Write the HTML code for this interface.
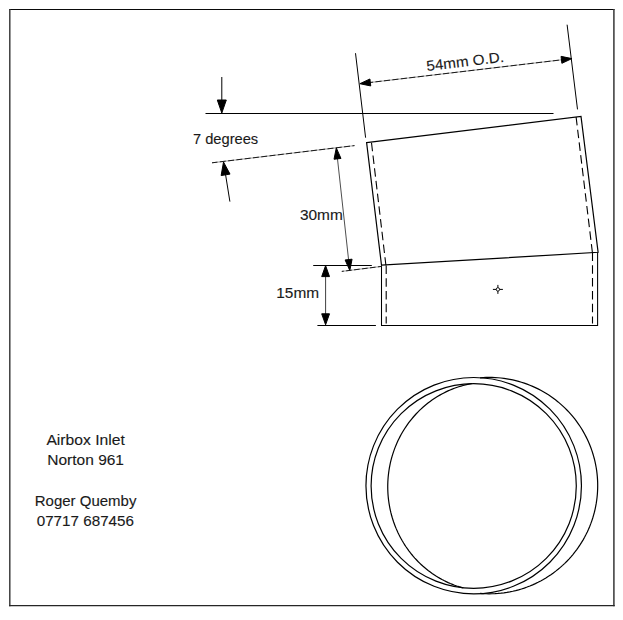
<!DOCTYPE html>
<html><head><meta charset="utf-8"><style>
html,body{margin:0;padding:0;background:#fff;}
body{width:623px;height:620px;overflow:hidden;}
svg{display:block;}
text{font-family:"Liberation Sans", sans-serif;fill:#1a1a1a;stroke:#1a1a1a;stroke-width:0.12px;}
</style></head><body>
<svg width="623" height="620" viewBox="0 0 623 620">
<rect width="623" height="620" fill="#fff"/>
<g stroke="#000" fill="none">
<line x1="9" y1="9.5" x2="614.5" y2="9.5" stroke="#0a0a0a" stroke-width="1.1"/>
<line x1="9.8" y1="9" x2="9.8" y2="606.3" stroke="#383838" stroke-width="1.45"/>
<line x1="613.9" y1="9" x2="613.9" y2="606.3" stroke="#3c3c3c" stroke-width="1.55"/>
<line x1="9.1" y1="605.6" x2="614.7" y2="605.6" stroke="#262626" stroke-width="1.35"/>
<line x1="205.50" y1="113.50" x2="553.50" y2="113.50" stroke-width="1.05" />
<line x1="221.80" y1="77.00" x2="221.80" y2="104.00" stroke-width="1" />
<polygon points="221.80,113.00 226.30,100.00 217.30,100.00" fill="#000"/>
<line x1="212.00" y1="162.80" x2="354.50" y2="145.60" stroke="#555" stroke-width="0.6"/><line x1="212.00" y1="162.80" x2="354.50" y2="145.60" stroke-width="0.85" stroke-dasharray="5.945,2.4" stroke-dashoffset="0.469"/>
<line x1="229.90" y1="201.60" x2="224.50" y2="168.00" stroke-width="1" />
<polygon points="223.50,162.00 221.13,175.55 230.02,174.12" fill="#000"/>
<line x1="355.50" y1="53.20" x2="365.60" y2="137.70" stroke-width="1" />
<line x1="567.10" y1="24.70" x2="577.50" y2="109.40" stroke-width="1" />
<line x1="365.00" y1="83.10" x2="566.00" y2="59.30" stroke="#555" stroke-width="0.6"/><line x1="365.00" y1="83.10" x2="566.00" y2="59.30" stroke-width="0.85" stroke-dasharray="6.104,2.4" stroke-dashoffset="6.454"/>
<polygon points="359.90,83.70 370.74,85.94 369.92,78.99" fill="#000"/>
<polygon points="571.90,58.60 561.06,56.36 561.88,63.31" fill="#000"/>
<polygon points="366.6,142.6 581,116.5 598.1,252.3 381.5,265.2" fill="none" stroke="#000" stroke-width="1.2" stroke-linejoin="miter"/>
<line x1="371.50" y1="142.80" x2="385.90" y2="265.20" stroke-width="1.1" stroke-dasharray="8.5,4.3"/>
<line x1="576.10" y1="117.00" x2="592.40" y2="252.50" stroke-width="1.1" stroke-dasharray="8.5,4.3"/>
<polyline points="381.5,265.2 381.5,325.5 597.6,325.5 597.6,252.3" fill="none" stroke="#000" stroke-width="1.05"/>
<line x1="386.20" y1="265.40" x2="386.20" y2="323.50" stroke-width="1.1" stroke-dasharray="8.5,4.3"/>
<line x1="592.50" y1="252.50" x2="592.50" y2="323.50" stroke-width="1.1" stroke-dasharray="8.5,4.3"/>
<line x1="337.40" y1="158.00" x2="348.60" y2="260.00" stroke-width="0.7" />
<polygon points="336.30,147.90 334.03,159.22 340.98,158.45" fill="#000"/>
<polygon points="349.80,270.50 352.07,259.18 345.12,259.95" fill="#000"/>
<line x1="341.80" y1="271.40" x2="381.50" y2="266.40" stroke="#555" stroke-width="0.6"/><line x1="341.80" y1="271.40" x2="381.50" y2="266.40" stroke-width="0.85" stroke-dasharray="5.603,2.4" stroke-dashoffset="3.602"/>
<line x1="313.20" y1="265.50" x2="371.80" y2="265.50" stroke-width="1.05" />
<line x1="317.40" y1="325.50" x2="375.90" y2="325.50" stroke-width="1.05" />
<line x1="325.60" y1="276.00" x2="325.60" y2="314.00" stroke-width="0.75" />
<polygon points="325.60,265.60 321.70,276.60 329.50,276.60" fill="#000"/>
<polygon points="325.60,324.80 329.50,313.80 321.70,313.80" fill="#000"/>
<line x1="492.90" y1="289.40" x2="496.30" y2="289.40" stroke-width="1" />
<line x1="499.50" y1="289.40" x2="502.90" y2="289.40" stroke-width="1" />
<line x1="497.90" y1="284.90" x2="497.90" y2="287.80" stroke-width="1" />
<line x1="497.90" y1="291.00" x2="497.90" y2="293.90" stroke-width="1" />
<circle cx="497.9" cy="289.4" r="1.7" stroke-width="0.9"/>
<ellipse cx="473.7" cy="485.7" rx="107.75" ry="108.2" fill="none" stroke="#000" stroke-width="1.2"/>
<ellipse cx="473.7" cy="486" rx="102.6" ry="102.3" fill="none" stroke="#000" stroke-width="1.2"/>
<polyline points="463.31,587.98 461.11,587.36 458.91,586.69 456.73,585.97 454.57,585.20 452.43,584.37 450.30,583.50 448.19,582.58 446.11,581.60 444.04,580.58 442.00,579.51 439.98,578.39 437.99,577.22 436.02,576.01 434.08,574.75 432.17,573.45 430.29,572.10 428.44,570.71 426.62,569.27 424.83,567.79 423.07,566.27 421.35,564.70 419.66,563.10 418.00,561.46 416.39,559.78 414.81,558.06 413.27,556.30 411.76,554.51 410.30,552.69 408.88,550.83 407.50,548.93 406.16,547.01 404.86,545.05 403.60,543.06 402.39,541.04 401.23,539.00 400.11,536.93 399.03,534.83 398.00,532.71 397.02,530.56 396.08,528.39 395.20,526.20 394.36,523.99 393.56,521.76 392.82,519.51 392.13,517.25 391.49,514.97 390.89,512.67 390.35,510.36 389.86,508.04 389.42,505.71 389.03,503.37 388.69,501.02 388.40,498.66 388.16,496.29 387.98,493.93 387.85,491.55 387.77,489.18 387.74,486.80 387.76,484.42 387.84,482.05 387.97,479.67 388.15,477.31 388.38,474.94 388.66,472.58 389.00,470.23 389.38,467.89 389.82,465.55 390.31,463.23 390.84,460.92 391.43,458.63 392.07,456.34 392.76,454.08 393.50,451.83 394.29,449.60 395.12,447.38 396.01,445.19 396.94,443.02 397.92,440.87 398.94,438.75 400.01,436.65 401.13,434.57 402.29,432.53 403.50,430.51 404.75,428.52 406.04,426.56 407.38,424.63 408.76,422.73 410.18,420.87 411.64,419.04 413.14,417.25 414.68,415.49 416.25,413.77 417.87,412.08 419.52,410.44 421.20,408.83 422.92,407.26 424.68,405.74 426.46,404.26 428.28,402.81 430.13,401.42 432.01,400.06 433.92,398.76 435.86,397.49 437.82,396.28 439.81,395.11 441.83,393.98 443.87,392.91 445.93,391.88 448.01,390.91 450.12,389.98 452.24,389.10 454.39,388.27 456.55,387.50 458.73,386.77 460.92,386.10 463.13,385.48 465.35,384.91 467.58,384.39 469.82,383.93 472.07,383.51" fill="none" stroke="#000" stroke-width="1.2"/>
<polyline points="480.07,377.81 483.05,377.59 486.04,377.46 489.03,377.40 492.02,377.43 495.01,377.54 497.99,377.73 500.97,378.01 503.93,378.37 506.89,378.81 509.84,379.33 512.77,379.93 515.68,380.61 518.57,381.38 521.44,382.22 524.28,383.14 527.10,384.14 529.89,385.22 532.64,386.37 535.37,387.60 538.06,388.91 540.71,390.29 543.33,391.74 545.90,393.26 548.43,394.86 550.91,396.52 553.35,398.25 555.74,400.05 558.08,401.91 560.37,403.84 562.60,405.83 564.78,407.88 566.89,409.99 568.95,412.15 570.95,414.38 572.89,416.65 574.76,418.99 576.57,421.37 578.31,423.80 579.99,426.27 581.59,428.80 583.13,431.36 584.59,433.97 585.98,436.62 587.29,439.30 588.54,442.02 589.70,444.78 590.79,447.56 591.81,450.37 592.74,453.21 593.59,456.08 594.37,458.97 595.07,461.87 595.68,464.80 596.22,467.74 596.67,470.70 597.04,473.66 597.33,476.64 597.53,479.62 597.66,482.61 597.70,485.60 597.66,488.59 597.53,491.58 597.33,494.56 597.04,497.54 596.67,500.50 596.22,503.46 595.68,506.40 595.07,509.33 594.37,512.23 593.59,515.12 592.74,517.99 591.81,520.83 590.79,523.64 589.70,526.42 588.54,529.18 587.29,531.90 585.98,534.58 584.59,537.23 583.13,539.84 581.59,542.40 579.99,544.93 578.31,547.40 576.57,549.83 574.76,552.21 572.89,554.55 570.95,556.82 568.95,559.05 566.89,561.21 564.78,563.32 562.60,565.37 560.37,567.36 558.08,569.29 555.74,571.15 553.35,572.95 550.91,574.68 548.43,576.34 545.90,577.94 543.33,579.46 540.71,580.91 538.06,582.29 535.37,583.60 532.64,584.83 529.89,585.98 527.10,587.06 524.28,588.06 521.44,588.98 518.57,589.82 515.68,590.59 512.77,591.27 509.84,591.87 506.89,592.39 503.93,592.83 500.97,593.19 497.99,593.47 495.01,593.66 492.02,593.77 489.03,593.80 486.04,593.74 483.05,593.61 480.07,593.39" fill="none" stroke="#000" stroke-width="1.2"/>
</g>
<g stroke="none">
<text x="192.9" y="144" font-size="14.5" textLength="65.3" lengthAdjust="spacingAndGlyphs" >7 degrees</text>
<text x="299.9" y="219.7" font-size="14.5" textLength="42.9" lengthAdjust="spacingAndGlyphs" >30mm</text>
<text x="276.3" y="298" font-size="14.5" textLength="42.8" lengthAdjust="spacingAndGlyphs" >15mm</text>
<g transform="translate(427.0,70.9) rotate(-6.8)"><text x="0" y="0" font-size="14.5" textLength="78" lengthAdjust="spacingAndGlyphs" >54mm O.D.</text></g>
<text x="46.4" y="445.2" font-size="14.5" textLength="78.4" lengthAdjust="spacingAndGlyphs" >Airbox Inlet</text>
<text x="47.3" y="465.1" font-size="14.5" textLength="76.7" lengthAdjust="spacingAndGlyphs" >Norton 961</text>
<text x="34.8" y="505.9" font-size="14.5" textLength="101.6" lengthAdjust="spacingAndGlyphs" >Roger Quemby</text>
<text x="36.7" y="526.2" font-size="14.5" textLength="97.3" lengthAdjust="spacingAndGlyphs" >07717 687456</text>
</g>
</svg>
</body></html>
